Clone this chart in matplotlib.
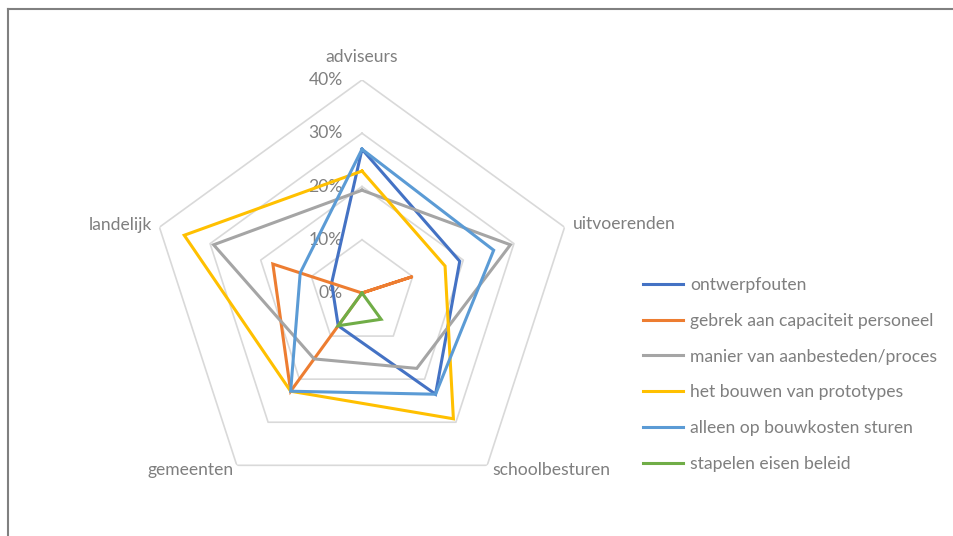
import numpy as np
import matplotlib
matplotlib.use("Agg")
import matplotlib.pyplot as plt
from matplotlib.lines import Line2D

plt.rcParams['font.family'] = ['Lato', 'DejaVu Sans']

categories = ['adviseurs', 'uitvoerenden', 'schoolbesturen', 'gemeenten', 'landelijk']

series_names = [
    'ontwerpfouten',
    'gebrek aan capaciteit personeel',
    'manier van aanbesteden/proces',
    'het bouwen van prototypes',
    'alleen op bouwkosten sturen',
    'stapelen eisen beleid',
]

ontwerpfouten = [0.270, 0.193, 0.235, 0.076, 0.060]
gebrek_capaciteit = [0.000, 0.100, 0.000, 0.228, 0.176]
aanbesteden_proces = [0.193, 0.293, 0.175, 0.153, 0.293]
prototypes = [0.229, 0.164, 0.292, 0.228, 0.351]
bouwkosten_sturen = [0.270, 0.260, 0.235, 0.228, 0.122]
stapelen_eisen = [0.000, 0.000, 0.061, 0.076, 0.000]

series_values = [ontwerpfouten, gebrek_capaciteit, aanbesteden_proces,
                 prototypes, bouwkosten_sturen, stapelen_eisen]
series_colors = ['#4472C4', '#ED7D31', '#A5A5A5', '#FFC000', '#5B9BD5', '#70AD47']

ticks = [0.0, 0.1, 0.2, 0.3, 0.4]
tick_labels = ['0%', '10%', '20%', '30%', '40%']

W, H = 954, 536
fig = plt.figure(figsize=(W / 100, H / 100), dpi=100)
fig.patch.set_facecolor('white')

# polar axes centred at (362, 293) px with a 213 px outer radius
cx, cy, R = 362, 293, 213
ax = fig.add_axes([(cx - R) / W, (H - cy - R) / H, 2 * R / W, 2 * R / H],
                  projection='polar')
ax.set_theta_offset(np.pi / 2)
ax.set_theta_direction(-1)
ax.set_ylim(0, 0.4)
ax.grid(False)
ax.set_xticks([])
ax.set_yticks([])
ax.spines['polar'].set_visible(False)
ax.patch.set_alpha(0)

n = len(categories)
angles = np.arange(n) * 2 * np.pi / n
closed = np.append(angles, angles[0])

# pentagon gridlines
for t in ticks[1:]:
    ax.plot(closed, [t] * (n + 1), color='#D9D9D9', lw=1.2, zorder=1)

text_color = '#7F7F7F'
fs = 12.6

# value axis labels along the first spoke
for t, lab in zip(ticks, tick_labels):
    ax.annotate(lab, xy=(0, t), xytext=(-19, 0), textcoords='offset pixels',
                ha='right', va='center', color=text_color, fontsize=fs,
                annotation_clip=False)

# category labels
cat_offsets = [(0, 23, 'center'), (8, 3, 'left'), (5, -5, 'left'),
               (-3, -5, 'right'), (-7, 2, 'right')]
for ang, name, (dx, dy, ha) in zip(angles, categories, cat_offsets):
    ax.annotate(name, xy=(ang, 0.4), xytext=(dx, dy), textcoords='offset pixels',
                ha=ha, va='center', color=text_color, fontsize=fs,
                annotation_clip=False)

# data series
handles = []
for name, vals, col in zip(series_names, series_values, series_colors):
    v = np.append(vals, vals[0])
    ln, = ax.plot(closed, v, color=col, lw=2.2, label=name, zorder=3,
                  solid_joinstyle='miter')
    handles.append(ln)

leg = fig.legend(handles=handles, loc='upper left',
                 bbox_to_anchor=(643 / W, 1 - 277 / H), frameon=False,
                 borderpad=0, borderaxespad=0, handlelength=2.3,
                 handletextpad=0.4, labelspacing=1.13, fontsize=fs)
for txt in leg.get_texts():
    txt.set_color(text_color)

# chart frame (left and top edges)
fig.add_artist(Line2D([8 / W, 8 / W], [0, 1 - 8.5 / H], transform=fig.transFigure,
                      color='#808080', lw=1.5))
fig.add_artist(Line2D([8 / W, 1], [1 - 8.5 / H, 1 - 8.5 / H], transform=fig.transFigure,
                      color='#808080', lw=1.5))

fig.savefig('out.png', dpi=100)
